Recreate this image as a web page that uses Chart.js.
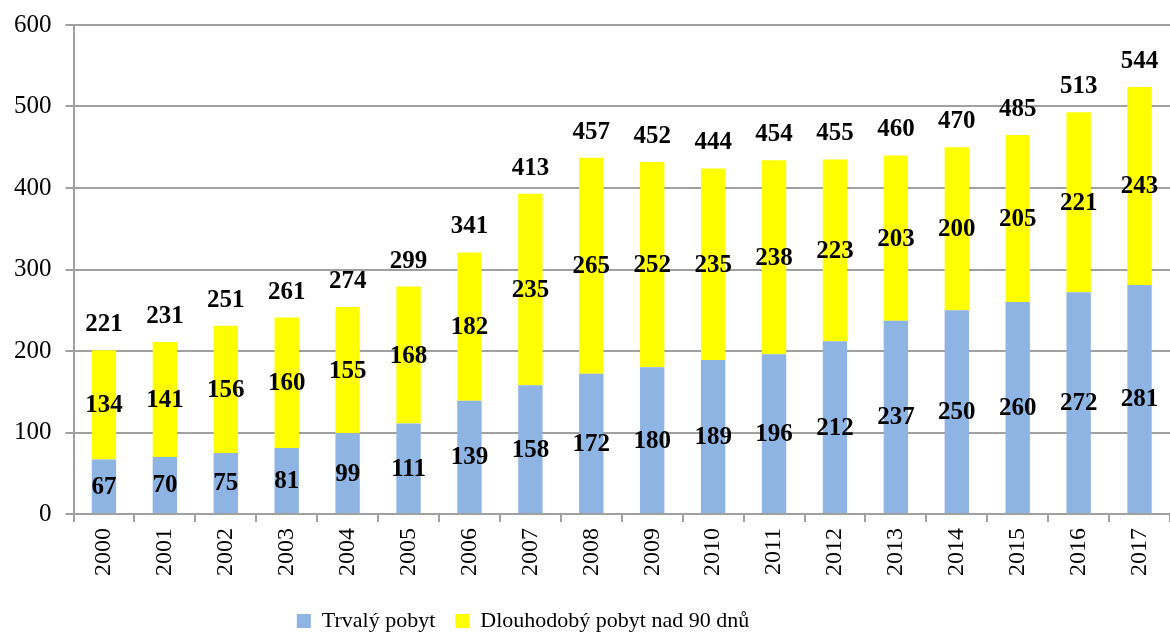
<!DOCTYPE html>
<html>
<head>
<meta charset="utf-8">
<script src="https://cdn.jsdelivr.net/npm/chart.js@4.4.1/dist/chart.umd.min.js"></script>
<style>
html,body{margin:0;padding:0;background:#fff;}
#wrap{width:1170px;height:634px;position:relative;}
</style>
</head>
<body>
<div id="wrap"><canvas id="c" width="1170" height="634"></canvas></div>
<script>
const years = ['2000','2001','2002','2003','2004','2005','2006','2007','2008','2009','2010','2011','2012','2013','2014','2015','2016','2017'];
const trvaly = [67,70,75,81,99,111,139,158,172,180,189,196,212,237,250,260,272,281];
const dlouhodoby = [134,141,156,160,155,168,182,235,265,252,235,238,223,203,200,205,221,243];
const totals = [221,231,251,261,274,299,341,413,457,452,444,454,455,460,470,485,513,544];
const seriesNames = ['Trvalý pobyt','Dlouhodobý pobyt nad 90 dnů'];
const yTicks = [0,100,200,300,400,500,600];

const FONT = '"Liberation Serif", "Times New Roman", serif';

const labelsPlugin = {
  id: 'valueLabels',
  afterDatasetsDraw(chart) {
    const ctx = chart.ctx;
    ctx.save();
    ctx.font = 'bold 25px ' + FONT;
    ctx.fillStyle = '#000';
    ctx.textAlign = 'center';
    ctx.textBaseline = 'middle';
    chart.data.datasets.forEach((ds, di) => {
      const meta = chart.getDatasetMeta(di);
      meta.data.forEach((bar, i) => {
        const p = bar.getProps(['x','y','base'], true);
        ctx.fillText(String(ds.data[i]), p.x, (p.y + p.base) / 2 + 1);
      });
    });
    const top = chart.getDatasetMeta(chart.data.datasets.length - 1);
    ctx.textBaseline = 'bottom';
    top.data.forEach((bar, i) => {
      const p = bar.getProps(['x','y'], true);
      ctx.fillText(String(totals[i]), p.x, p.y - 13);
    });
    ctx.restore();
  }
};

const legendShift = {
  id: 'legendShift',
  afterLayout(chart) {
    const lg = chart.legend;
    if (lg) { lg.left -= 66; lg.right -= 66; lg.top += 8; lg.bottom += 8; }
  }
};

new Chart(document.getElementById('c'), {
  type: 'bar',
  data: {
    labels: years,
    datasets: [
      { label: seriesNames[0], data: trvaly, backgroundColor: '#8EB4E3', borderWidth: 0 },
      { label: seriesNames[1], data: dlouhodoby, backgroundColor: '#FFFF00', borderWidth: 0 }
    ]
  },
  options: {
    responsive: false,
    animation: false,
    devicePixelRatio: 1,
    layout: { padding: { left: 0, right: -8, top: 25, bottom: 0 } },
    datasets: { bar: { barPercentage: 0.4, categoryPercentage: 1.0 } },
    plugins: {
      legend: {
        position: 'bottom',
        labels: {
          font: { family: FONT, size: 22 },
          color: '#000',
          boxWidth: 14,
          boxHeight: 14,
          padding: 20
        }
      },
      tooltip: { enabled: false }
    },
    scales: {
      x: {
        stacked: true,
        afterFit(scale) { scale.paddingRight = 0; scale.paddingLeft = 0; },
        grid: { drawOnChartArea: false, drawTicks: true, tickLength: 8, color: '#A0A0A0', lineWidth: 2 },
        border: { color: '#A0A0A0', width: 2 },
        ticks: { font: { family: FONT, size: 24 }, color: '#000', minRotation: 90, maxRotation: 90, padding: 6, autoSkip: false }
      },
      y: {
        stacked: true,
        min: 0, max: 600,
        afterFit(scale) { scale.paddingTop = 0; scale.paddingBottom = 0; },
        afterBuildTicks(axis) { axis.ticks = yTicks.map(v => ({ value: v })); },
        grid: { color: '#A0A0A0', lineWidth: 2, tickLength: 8, drawTicks: true },
        border: { color: '#A0A0A0', width: 2 },
        ticks: { font: { family: FONT, size: 25 }, color: '#000', padding: 14 }
      }
    }
  },
  plugins: [labelsPlugin, legendShift]
});
</script>
</body>
</html>
